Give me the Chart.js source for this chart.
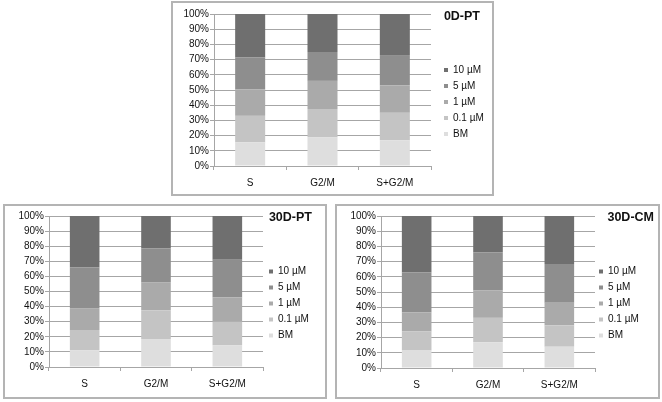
<!DOCTYPE html>
<html>
<head>
<meta charset="utf-8">
<script src="https://cdn.jsdelivr.net/npm/chart.js@4.4.0/dist/chart.umd.min.js"></script>
<style>
body { margin: 0; background: #fff; font-family: 'Liberation Sans', Arial, sans-serif; }
.panel { position: absolute; border: 2px solid #b4b4b4; }
.panel canvas { position: absolute; left: 0; top: 0; }
.ttl { position: absolute; width: 90px; text-align: right; font-weight: bold; font-size: 12.5px; line-height: 14px; color: #111; }
</style>
</head>
<body>
<div class="panel" style="left:171px;top:1px;width:319px;height:191px;"><canvas id="c0" width="319" height="191"></canvas></div>
<div class="panel" style="left:3px;top:204px;width:320px;height:191px;"><canvas id="c1" width="320" height="191"></canvas></div>
<div class="panel" style="left:335px;top:204px;width:321px;height:191px;"><canvas id="c2" width="321" height="191"></canvas></div>
<div class="ttl" id="t0" style="left:390px;top:9px;"></div>
<div class="ttl" id="t1" style="left:222px;top:210px;"></div>
<div class="ttl" id="t2" style="left:564px;top:210px;"></div>
<script>
'use strict';

// categories and series
var categories = ['S', 'G2/M', 'S+G2/M'];
var seriesNames = ['BM', '0.1 µM', '1 µM', '5 µM', '10 µM'];
var seriesColors = ['#dedede', '#c4c4c4', '#aaaaaa', '#8e8e8e', '#6f6f6f'];
var titles = ['0D-PT', '30D-PT', '30D-CM'];
var yTicks = [0, 10, 20, 30, 40, 50, 60, 70, 80, 90, 100];

// 0D-PT, percent per series (S, G2/M, S+G2/M)
var bm0 = [15.5, 19, 17];
var pointOne0 = [17.5, 18.5, 18];
var one0 = [17.5, 18.5, 18];
var five0 = [21, 19, 20];
var ten0 = [28.5, 25, 27];

// 30D-PT
var bm1 = [11, 18.5, 14.5];
var pointOne1 = [13.5, 19, 15.5];
var one1 = [14.5, 18.5, 16];
var five1 = [27, 22.5, 25];
var ten1 = [34, 21.5, 29];

// 30D-CM
var bm2 = [11.5, 17, 14];
var pointOne2 = [12.5, 16, 14];
var one2 = [12.5, 18, 15];
var five2 = [26.5, 25, 25.5];
var ten2 = [37, 24, 31.5];

var allData = [
  [bm0, pointOne0, one0, five0, ten0],
  [bm1, pointOne1, one1, five1, ten1],
  [bm2, pointOne2, one2, five2, ten2]
];

// layout of each panel (px inside its canvas)
var panelLayout = [
  {yWidth: 41, xHeight: 28, padTop: 11, padRight: 21, legendX: 271, legendDy: -2},
  {yWidth: 44, xHeight: 30, padTop: 10, padRight: 22, legendX: 264, legendDy: -3},
  {yWidth: 44, xHeight: 29, padTop: 10, padRight: 23, legendX: 262, legendDy: -3}
];

var gridColor = '#a6a6a6';
var tickFont = {family: "'Liberation Sans', Arial, sans-serif", size: 10};

// move the legend to where excel had it (and stop it clipping the text)
var placeLegend = {
  id: 'placeLegend',
  afterLayout: function(chart, args, opts) {
    var lg = chart.legend;
    lg.left = opts.x - lg.options.labels.padding;
    lg.right = chart.width;
    lg.top += opts.dy;
    lg.bottom += opts.dy;
  }
};

function makeChart(index) {
  var lay = panelLayout[index];
  var sets = [];
  for (var i = 0; i < seriesNames.length; i++) {
    sets.push({
      label: seriesNames[i],
      data: allData[index][i],
      backgroundColor: seriesColors[i],
      borderWidth: 0,
      categoryPercentage: 1,
      barPercentage: 0.415
    });
  }

  document.getElementById('t' + index).textContent = titles[index];

  var ctx = document.getElementById('c' + index).getContext('2d');
  return new Chart(ctx, {
    type: 'bar',
    data: {labels: categories, datasets: sets},
    plugins: [placeLegend],
    options: {
      responsive: false,
      animation: false,
      devicePixelRatio: 1,
      layout: {padding: {top: lay.padTop, right: lay.padRight, left: 0, bottom: 0}},
      plugins: {
        tooltip: {enabled: false},
        title: {display: false},
        placeLegend: {x: lay.legendX, dy: lay.legendDy},
        legend: {
          position: 'right',
          reverse: true,
          maxWidth: 40,
          labels: {
            boxWidth: 4,
            boxHeight: 4,
            padding: 6,
            color: '#111',
            font: tickFont
          }
        }
      },
      scales: {
        x: {
          stacked: true,
          grid: {offset: true, drawOnChartArea: false, tickLength: 4, color: gridColor},
          border: {color: gridColor},
          ticks: {color: '#111', font: tickFont, padding: 7, maxRotation: 0},
          afterFit: function(s) { s.height = lay.xHeight; }
        },
        y: {
          stacked: true,
          min: 0,
          max: 100,
          afterBuildTicks: function(s) {
            s.ticks = yTicks.map(function(v) { return {value: v}; });
          },
          grid: {color: gridColor, tickLength: 4},
          border: {color: gridColor},
          ticks: {
            color: '#111',
            font: tickFont,
            padding: 1,
            callback: function(v) { return v + '%'; }
          },
          afterFit: function(s) { s.width = lay.yWidth; }
        }
      }
    }
  });
}

makeChart(0);
makeChart(1);
makeChart(2);
</script>
</body>
</html>
